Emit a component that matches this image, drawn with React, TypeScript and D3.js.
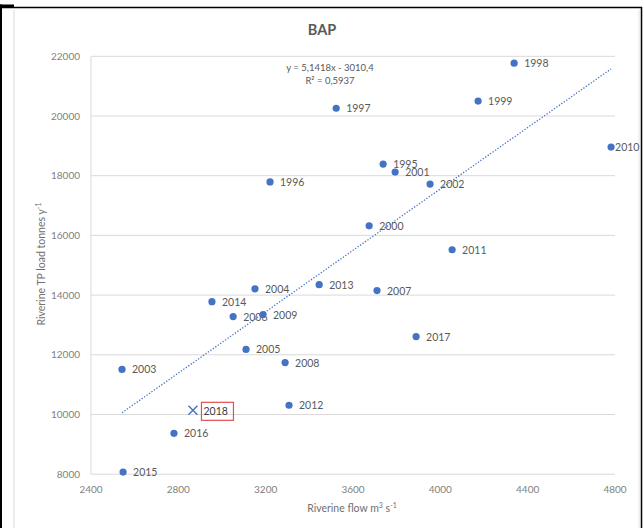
import React from "react";
import * as d3 from "d3";

// Riverine flow (m³ s⁻¹) and riverine TP load (tonnes y⁻¹) per year, Baltic Proper
const years = [
  "1995", "1996", "1997", "1998", "1999", "2000", "2001", "2002", "2003", "2004",
  "2005", "2006", "2007", "2008", "2009", "2010", "2011", "2012", "2013", "2014",
  "2015", "2016", "2017",
];
const flow = [
  3738, 3220, 3523, 4338, 4173, 3674, 3793, 3953, 2542, 3151,
  3110, 3051, 3710, 3289, 3188, 4782, 4054, 3307, 3445, 2954,
  2547, 2780, 3889,
];
const load = [
  18390, 17790, 20260, 21770, 20500, 16320, 18120, 17720, 11510, 14210,
  12180, 13280, 14150, 11740, 13350, 18960, 15520, 10310, 14350, 13780,
  8070, 9370, 12610,
];

// Highlighted year, drawn with a cross
const highlightYear = "2018";
const highlightFlow = 2867;
const highlightLoad = 10140;

// Linear trend fitted on 1995–2017
const trendSlope = 5.1418;
const trendIntercept = -3010.4;
const trendLabel = "y = 5,1418x - 3010,4";
const r2Label = "R² = 0,5937";

const xTicks = [2400, 2800, 3200, 3600, 4000, 4400, 4800];
const yTicks = [8000, 10000, 12000, 14000, 16000, 18000, 20000, 22000];

const title = "BAP";

const W = 644;
const H = 528;
const FONT = "Lato, 'Open Sans', sans-serif";

export default function App() {
  const x = d3.scaleLinear().domain([2400, 4800]).range([91, 615]);
  const y = d3.scaleLinear().domain([8000, 22000]).range([474.2, 56.3]);

  const xMin = d3.min(flow) as number;
  const xMax = d3.max(flow) as number;
  const trend = d3
    .line<number>()
    .x((v) => x(v))
    .y((v) => y(trendSlope * v + trendIntercept));

  const hx = x(highlightFlow);
  const hy = y(highlightLoad);

  // labels near the right edge sit tight against their point so they stay inside the frame
  const labelOffset = (px: number) => (px + 10 + 24 > 638 ? 4 : 10);

  return (
    <svg
      width={W}
      height={H}
      style={{ position: "absolute", left: 0, top: 0, background: "#fff" }}
      fontFamily={FONT}
    >
      {/* outer frame */}
      <rect x={0} y={0} width={W} height={H} fill="#fff" />
      <line x1={14} x2={14} y1={10} y2={H} stroke="#d9d9d9" strokeWidth={1} />
      <line x1={639} x2={639} y1={10} y2={H} stroke="#e3e3e3" strokeWidth={1} />
      <line x1={0} x2={642} y1={7.5} y2={7.5} stroke="#000" strokeWidth={1.5} />
      <rect x={0} y={4.5} width={14} height={3} fill="#000" />
      <line x1={1} x2={1} y1={4.5} y2={H} stroke="#000" strokeWidth={2} />
      <line x1={641.5} x2={641.5} y1={7} y2={H} stroke="#000" strokeWidth={1.5} />

      {/* title */}
      <text x={322} y={35} textAnchor="middle" fontSize={14.5} fontWeight="bold" fill="#595959">
        {title}
      </text>

      {/* gridlines */}
      {yTicks.map((t) => (
        <line key={t} x1={x(2400)} x2={x(4800)} y1={y(t)} y2={y(t)} stroke="#d9d9d9" strokeWidth={1} />
      ))}
      <line x1={x(2400)} x2={x(2400)} y1={y(22000)} y2={y(8000)} stroke="#d9d9d9" strokeWidth={1} />

      {/* tick labels */}
      {yTicks.map((t) => (
        <text key={t} x={80} y={y(t) + 3.5} textAnchor="end" fontSize={10} fill="#7f7f7f">
          {t}
        </text>
      ))}
      {xTicks.map((t) => (
        <text key={t} x={x(t)} y={493} textAnchor="middle" fontSize={10} fill="#7f7f7f">
          {t}
        </text>
      ))}

      {/* axis titles */}
      <text x={352} y={512} textAnchor="middle" fontSize={10.5} fill="#6f6f6f">
        Riverine flow m<tspan fontSize={7} dy={-4}>3</tspan>
        <tspan dy={4}> s</tspan>
        <tspan fontSize={7} dy={-4}>-1</tspan>
      </text>
      <text
        transform={`translate(45,264) rotate(-90)`}
        textAnchor="middle"
        fontSize={10.5}
        fill="#6f6f6f"
      >
        Riverine TP load tonnes y<tspan fontSize={7} dy={-4}>-1</tspan>
      </text>

      {/* trendline */}
      <path
        d={trend([xMin, xMax]) ?? ""}
        fill="none"
        stroke="#4472c4"
        strokeWidth={1.3}
        strokeDasharray="1.3 1.7"
      />
      <text x={330} y={71} textAnchor="middle" fontSize={9.5} fill="#595959">
        {trendLabel}
      </text>
      <text x={330} y={84} textAnchor="middle" fontSize={9.5} fill="#595959">
        {r2Label}
      </text>

      {/* points */}
      {years.map((yr, i) => {
        const px = x(flow[i]);
        const py = y(load[i]);
        return (
          <g key={yr}>
            <circle cx={px} cy={py} r={3.6} fill="#4472c4" />
            <text x={px + labelOffset(px)} y={py + 4} fontSize={10.5} fill="#595959">
              {yr}
            </text>
          </g>
        );
      })}

      {/* highlighted year */}
      <g stroke="#4472c4" strokeWidth={1.4}>
        <line x1={hx - 4.5} x2={hx + 4.5} y1={hy - 4.5} y2={hy + 4.5} />
        <line x1={hx - 4.5} x2={hx + 4.5} y1={hy + 4.5} y2={hy - 4.5} />
      </g>
      <rect x={hx + 8.5} y={hy - 8} width={32} height={18} fill="none" stroke="#e05050" strokeWidth={1.2} />
      <text x={hx + 10.5} y={hy + 5} fontSize={10.5} fill="#404040">
        {highlightYear}
      </text>
    </svg>
  );
}
